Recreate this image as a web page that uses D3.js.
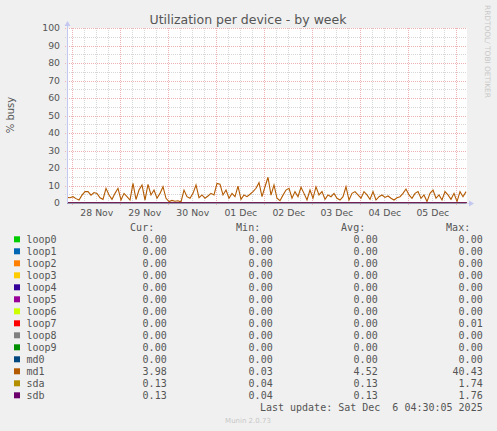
<!DOCTYPE html>
<html>
<head>
<meta charset="utf-8">
<script src="https://cdn.jsdelivr.net/npm/d3@7"></script>
<style>
  body { margin: 0; background: #f0f0f0; }
  svg { display: block; }
</style>
</head>
<body>
<div id="chart"></div>
<script>
// md1 busy %, one reading every 1.5 hours from the start of the graph
const md1Values = [
  3.2, 3.0, 3.6, 2.5, 1.7, 4.5, 6.5, 6.5, 4.5, 6.0, 5.5, 3.0, 2.1, 8.4, 4.6, 2.1, 5.5, 8.4, 1.7, 5.5,
  3.6, 1.7, 11.2, 2.0, 7.4, 10.3, 1.7, 10.7, 4.6, 7.4, 2.7, 5.5, 9.3, 2.7, 0.8, 1.5, 1.0, 1.3, 0.6, 7.4,
  3.6, 2.7, 5.5, 10.3, 3.0, 4.6, 2.7, 4.0, 5.5, 4.6, 11.2, 10.8, 4.6, 7.4, 2.7, 5.5, 3.6, 9.7, 2.1, 4.6,
  3.6, 5.0, 6.5, 8.4, 11.6, 3.6, 9.3, 14.7, 4.5, 10.3, 2.7, 1.3, 4.5, 7.4, 8.4, 2.7, 6.5, 3.6, 9.0, 5.5,
  1.7, 7.4, 2.7, 9.3, 4.6, 6.5, 2.1, 4.6, 3.6, 5.5, 2.7, 1.7, 3.6, 9.3, 1.7, 5.5, 6.5, 4.6, 2.7, 6.5,
  4.6, 2.1, 6.5, 1.7, 3.6, 4.6, 3.2, 4.0, 2.7, 1.7, 3.0, 3.6, 5.5, 8.0, 4.6, 2.7, 5.5, 6.5, 2.7, 4.6,
  0.8, 5.5, 7.4, 2.7, 4.6, 1.7, 6.5, 4.6, 2.1, 5.5, 0.8, 6.5, 3.6, 6.5
]
// sda / sdb, one reading every 12.5 hours
const sdaValues = [0.12, 0.13, 0.14, 0.12, 0.13, 0.15, 0.12, 0.13, 0.14, 0.13, 0.12, 0.13, 0.14, 0.13, 0.12, 0.13, 0.13]
const sdbValues = [0.12, 0.13, 0.14, 0.12, 0.13, 0.15, 0.12, 0.13, 0.14, 0.13, 0.12, 0.13, 0.14, 0.13, 0.12, 0.13, 0.13]

const devices = ["loop0", "loop1", "loop2", "loop3", "loop4", "loop5", "loop6", "loop7", "loop8", "loop9", "md0", "md1", "sda", "sdb"]
const colors = ["#00CC00", "#0066B3", "#FF8000", "#FFCC00", "#330099", "#990099", "#CCFF00", "#FF0000", "#808080", "#008F00", "#00487D", "#B35A00", "#B38F00", "#6B006B"]
const curValues = ["0.00", "0.00", "0.00", "0.00", "0.00", "0.00", "0.00", "0.00", "0.00", "0.00", "0.00", "3.98", "0.13", "0.13"]
const minValues = ["0.00", "0.00", "0.00", "0.00", "0.00", "0.00", "0.00", "0.00", "0.00", "0.00", "0.00", "0.03", "0.04", "0.04"]
const avgValues = ["0.00", "0.00", "0.00", "0.00", "0.00", "0.00", "0.00", "0.00", "0.00", "0.00", "0.00", "4.52", "0.13", "0.13"]
const maxValues = ["0.00", "0.00", "0.00", "0.00", "0.00", "0.00", "0.00", "0.01", "0.00", "0.00", "0.00", "40.43", "1.74", "1.76"]

const yTicks = [0, 10, 20, 30, 40, 50, 60, 70, 80, 90, 100]
const title = "Utilization per device - by week"
const lastUpdate = "Last update: Sat Dec  6 04:30:05 2025"

const W = 497, H = 431
const plot = {left: 67, right: 467, top: 28, bottom: 203}
const HOUR = 3600 * 1000
const t0 = new Date(2025, 10, 27, 21, 20)
const t1 = new Date(t0.getTime() + 200 * HOUR)

const svg = d3.select("#chart").append("svg")
    .attr("width", W)
    .attr("height", H)

svg.append("rect").attr("width", W).attr("height", H).attr("fill", "#f0f0f0")

const x = d3.scaleTime().domain([t0, t1]).range([plot.left, plot.right])
const y = d3.scaleLinear().domain([0, 100]).range([plot.bottom, plot.top])

// plot background
svg.append("rect")
    .attr("x", plot.left).attr("y", plot.top)
    .attr("width", plot.right - plot.left).attr("height", plot.bottom - plot.top)
    .attr("fill", "#ffffff")

const grid = svg.append("g").attr("shape-rendering", "crispEdges")
const px = v => Math.round(v) + 0.5

// minor grid
d3.range(5, 100, 10).forEach(v => {
    grid.append("line")
        .attr("x1", plot.left - 2).attr("x2", plot.right)
        .attr("y1", px(y(v))).attr("y2", px(y(v)))
        .attr("stroke", "#d6d6d6").attr("stroke-dasharray", "1,1")
})
d3.timeHour.every(6).range(t0, t1).filter(d => d.getHours() != 0).forEach(d => {
    grid.append("line")
        .attr("x1", px(x(d))).attr("x2", px(x(d)))
        .attr("y1", plot.top).attr("y2", plot.bottom)
        .attr("stroke", "#d6d6d6").attr("stroke-dasharray", "1,1")
})
// major grid
yTicks.filter(v => v > 0).forEach(v => {
    grid.append("line")
        .attr("x1", plot.left - 2).attr("x2", plot.right)
        .attr("y1", px(y(v))).attr("y2", px(y(v)))
        .attr("stroke", "#eeb2b2").attr("stroke-dasharray", "1,1")
})
d3.timeDay.range(t0, t1).forEach(d => {
    grid.append("line")
        .attr("x1", px(x(d))).attr("x2", px(x(d)))
        .attr("y1", plot.top).attr("y2", plot.bottom + 2)
        .attr("stroke", "#eeb2b2").attr("stroke-dasharray", "1,1")
})

// series
const series = devices.map((name, i) => {
    let vals, step
    if (name == "md1") { vals = md1Values; step = 1.5 }
    else if (name == "sda") { vals = sdaValues; step = 12.5 }
    else if (name == "sdb") { vals = sdbValues; step = 12.5 }
    else { vals = [0, 0]; step = 199.5 }
    return {name, color: colors[i], points: vals.map((v, j) => ({t: new Date(t0.getTime() + j * step * HOUR), v}))}
})

const line = d3.line()
    .x(d => x(d.t))
    .y(d => y(d.v))

svg.append("g").selectAll("path")
    .data(series)
    .join("path")
    .attr("fill", "none")
    .attr("stroke", d => d.color)
    .attr("stroke-width", 1.1)
    .attr("d", d => line(d.points))

// axes lines with arrows, drawn over the data like rrdtool does
const axisColor = "#c4c8f0"
svg.append("line")
    .attr("x1", plot.left + 0.5).attr("x2", plot.left + 0.5)
    .attr("y1", plot.bottom).attr("y2", plot.top - 4)
    .attr("stroke", axisColor)
svg.append("line")
    .attr("x1", plot.left).attr("x2", plot.right + 3)
    .attr("y1", plot.bottom + 0.5).attr("y2", plot.bottom + 0.5)
    .attr("stroke", axisColor).attr("stroke-opacity", 0.6)
svg.append("path")
    .attr("d", `M${plot.left - 2.5},${plot.top - 2}L${plot.left + 3.5},${plot.top - 2}L${plot.left + 0.5},${plot.top - 7}Z`)
    .attr("fill", axisColor)
svg.append("path")
    .attr("d", `M${plot.right + 2},${plot.bottom - 2.5}L${plot.right + 2},${plot.bottom + 3.5}L${plot.right + 7},${plot.bottom + 0.5}Z`)
    .attr("fill", axisColor)

// tick labels
const yAxis = svg.append("g")
    .attr("transform", `translate(${plot.left},0)`)
    .call(d3.axisLeft(y).tickValues(yTicks).tickSize(0).tickPadding(7))
yAxis.select(".domain").remove()
yAxis.selectAll("text")
    .attr("font-family", "DejaVu Sans").attr("font-size", 9.3).attr("fill", "#555")

const noons = d3.timeDay.range(t0, t1).map(d => d3.timeHour.offset(d, 12)).filter(d => d < t1)
const xAxis = svg.append("g")
    .attr("transform", `translate(0,${plot.bottom})`)
    .call(d3.axisBottom(x).tickValues(noons).tickSize(0).tickPadding(6).tickFormat(d3.timeFormat("%d %b")))
xAxis.select(".domain").remove()
xAxis.selectAll("text")
    .attr("font-family", "DejaVu Sans").attr("font-size", 9.3).attr("fill", "#555")

// title and labels
svg.append("text")
    .attr("x", 248).attr("y", 23.5)
    .attr("text-anchor", "middle")
    .attr("font-family", "DejaVu Sans").attr("font-size", 12.5).attr("fill", "#555")
    .text(title)

svg.append("text")
    .attr("transform", "translate(13.5,115) rotate(-90)")
    .attr("text-anchor", "middle")
    .attr("font-family", "DejaVu Sans").attr("font-size", 10).attr("fill", "#555")
    .text("% busy")

svg.append("text")
    .attr("transform", "translate(484.5,5) rotate(90)")
    .attr("font-family", "DejaVu Sans").attr("font-size", 7.4).attr("fill", "#c8c8c8")
    .text("RRDTOOL/ TOBI OETIKER")

// legend
const mono = "DejaVu Sans Mono"
const legend = svg.append("g")
    .attr("font-family", mono).attr("font-size", 10).attr("fill", "#555")

const colEnds = [166.7, 272.7, 377.7, 482.7]
const headers = ["Cur:", "Min:", "Avg:", "Max:"]
headers.forEach((h, i) => {
    legend.append("text")
        .attr("x", colEnds[i] - 12.5).attr("y", 230.8)
        .attr("text-anchor", "end")
        .text(h)
})

const rows = legend.selectAll("g.row")
    .data(devices)
    .join("g")
    .attr("class", "row")
    .attr("transform", (d, i) => `translate(0,${239.3 + 12 * i})`)

rows.append("rect")
    .attr("x", 14).attr("y", -3).attr("width", 6).attr("height", 6)
    .attr("fill", (d, i) => colors[i])
rows.append("text")
    .attr("x", 26.5).attr("y", 3.5)
    .text(d => d)
const cols = [curValues, minValues, avgValues, maxValues]
cols.forEach((col, c) => {
    rows.append("text")
        .attr("x", colEnds[c]).attr("y", 3.5)
        .attr("text-anchor", "end")
        .text((d, i) => col[i])
})

legend.append("text")
    .attr("x", 482.7).attr("y", 411.2)
    .attr("text-anchor", "end")
    .attr("xml:space", "preserve")
    .style("white-space", "pre")
    .text(lastUpdate)

svg.append("text")
    .attr("x", 248).attr("y", 422.5)
    .attr("text-anchor", "middle")
    .attr("font-family", "DejaVu Sans").attr("font-size", 7).attr("fill", "#c8c8c8")
    .text("Munin 2.0.73")
</script>
</body>
</html>
